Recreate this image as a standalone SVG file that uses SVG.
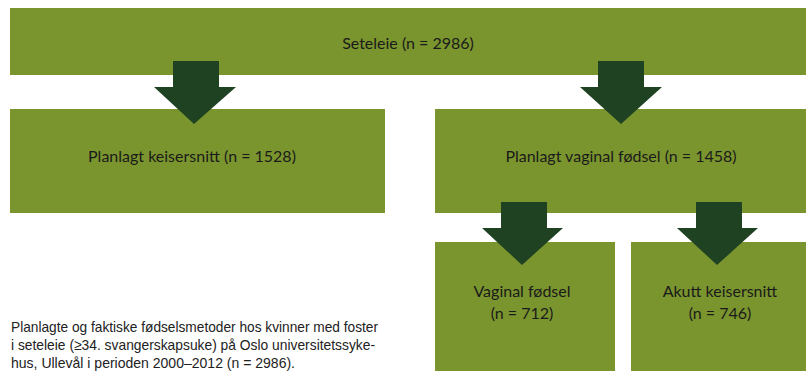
<svg xmlns="http://www.w3.org/2000/svg" width="806" height="388" viewBox="0 0 806 388">
<style>
.box{fill:#7a952e}
.arr{fill:#1f4322}
.t{font-family:Lato,"Open Sans",sans-serif;font-size:16px;fill:#1a1a1a;text-anchor:middle}
.cap{font-family:"Liberation Sans",Arial,sans-serif;font-size:15px;fill:#222}
</style>
<rect width="806" height="388" fill="#fff"/>
<g id="node-seteleie"><rect class="box" x="10" y="8" width="796" height="67"/><text class="t" x="408" y="49">Seteleie (n = 2986)</text></g>
<g id="node-planlagt-keisersnitt"><rect class="box" x="10" y="109" width="375" height="104"/><text class="t" x="192" y="162">Planlagt keisersnitt (n = 1528)</text></g>
<g id="node-planlagt-vaginal"><rect class="box" x="435" y="109" width="371" height="104"/><text class="t" x="621" y="162">Planlagt vaginal fødsel (n = 1458)</text></g>
<g id="node-vaginal"><rect class="box" x="435" y="242" width="180" height="129"/><text class="t" x="522" y="297">Vaginal fødsel</text><text class="t" x="522" y="319">(n = 712)</text></g>
<g id="node-akutt"><rect class="box" x="631" y="242" width="175" height="129"/><text class="t" x="720" y="297">Akutt keisersnitt</text><text class="t" x="720" y="319">(n = 746)</text></g>
<g id="connectors">
<polygon class="arr" points="173,61 219,61 219,87 236,87 194,124 154,87 173,87"/>
<polygon class="arr" points="598,61 644,61 644,87 662,87 621,124 580,87 598,87"/>
<polygon class="arr" points="501,202 547,202 547,228 563,228 522,265 482,228 501,228"/>
<polygon class="arr" points="696,202 742,202 742,228 758,228 717,265 677,228 696,228"/>
</g>
<g id="caption">
<text class="cap" x="11" y="332" textLength="367" lengthAdjust="spacingAndGlyphs">Planlagte og faktiske fødselsmetoder hos kvinner med foster</text>
<text class="cap" x="11" y="350" textLength="364" lengthAdjust="spacingAndGlyphs">i seteleie (≥34. svangerskapsuke) på Oslo universitetssyke-</text>
<text class="cap" x="11" y="368" textLength="284" lengthAdjust="spacingAndGlyphs">hus, Ullevål i perioden 2000–2012 (n = 2986).</text>
</g>
</svg>
